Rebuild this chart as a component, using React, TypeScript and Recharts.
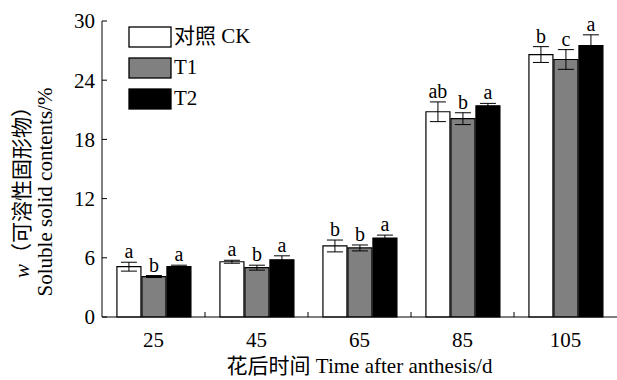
import { BarChart, Bar, XAxis, YAxis, ErrorBar, LabelList, Legend } from 'recharts';

const categories = ['25', '45', '65', '85', '105'];
const ckValues = [5.1, 5.6, 7.2, 20.8, 26.6];
const ckErrors = [0.45, 0.15, 0.6, 1.0, 0.8];
const ckLetters = ['a', 'a', 'b', 'ab', 'b'];
const t1Values = [4.1, 5.0, 7.0, 20.1, 26.1];
const t1Errors = [0.1, 0.25, 0.3, 0.6, 1.0];
const t1Letters = ['b', 'b', 'b', 'b', 'c'];
const t2Values = [5.1, 5.8, 8.0, 21.4, 27.5];
const t2Errors = [0.15, 0.4, 0.3, 0.25, 1.1];
const t2Letters = ['a', 'a', 'a', 'a', 'a'];
const yTicks = [0, 6, 12, 18, 24, 30];

const data = categories.map((day, i) => ({
    day,
    ck: ckValues[i], ckErr: ckErrors[i], ckLetter: ckLetters[i],
    t1: t1Values[i], t1Err: t1Errors[i], t1Letter: t1Letters[i],
    t2: t2Values[i], t2Err: t2Errors[i], t2Letter: t2Letters[i],
}));

const series = [
    { key: 'ck', name: '对照 CK', fill: '#ffffff' },
    { key: 't1', name: 'T1', fill: '#808080' },
    { key: 't2', name: 'T2', fill: '#000000' },
];

const FONT = "'Liberation Serif', 'Times New Roman', 'Noto Sans CJK SC', serif";
const W = 617;
const H = 380;
const LEFT = 102;
const CAT_W = (W - LEFT) / categories.length;

const YTick = (props: any) => {
    const { x, y, payload } = props;
    return (
        <g>
            <line x1={x} x2={x + 5} y1={y} y2={y} stroke="#000" strokeWidth={1} />
            <text x={x - 7} y={y} dy="0.35em" textAnchor="end" fontSize={21} fontFamily={FONT} fill="#000">
                {payload.value}
            </text>
        </g>
    );
};

const XTick = (props: any) => {
    const { x, y, payload, index } = props;
    return (
        <g>
            {index < categories.length - 1 && (
                <line x1={x + CAT_W / 2} x2={x + CAT_W / 2} y1={y} y2={y - 5} stroke="#000" strokeWidth={1} />
            )}
            <text x={x} y={y + 30} textAnchor="middle" fontSize={21} fontFamily={FONT} fill="#000">
                {payload.value}
            </text>
        </g>
    );
};

const letterLabel = (key: string) => (props: any) => {
    const { x, y, width, height, index } = props;
    const row: any = data[index];
    const perUnit = height / row[key];
    const top = y - row[key + 'Err'] * perUnit;
    return (
        <text x={x + width / 2} y={top - 4} textAnchor="middle" fontSize={20} fontFamily={FONT} fill="#000">
            {row[key + 'Letter']}
        </text>
    );
};

const renderLegend = () => (
    <div style={{ fontFamily: FONT, fontSize: 21, color: '#000', lineHeight: 1 }}>
        {series.map((s) => (
            <div key={s.key} style={{ display: 'flex', alignItems: 'center', height: 31 }}>
                <svg width={44} height={22} style={{ marginRight: 2 }}>
                    <rect x={1} y={1} width={42} height={20} fill={s.fill} stroke="#000" strokeWidth={1.3} />
                </svg>
                <span>{s.name}</span>
            </div>
        ))}
    </div>
);

const YLabel = () => (
    <g fontFamily={FONT} fontSize={21} fill="#000">
        <text transform="translate(22,187) rotate(-90)" textAnchor="middle" dominantBaseline="central">
            <tspan fontStyle="italic">w</tspan>
            <tspan>（可溶性固形物）</tspan>
        </text>
        <text transform="translate(45,192) rotate(-90)" textAnchor="middle" dominantBaseline="central">
            Soluble solid contents/%
        </text>
    </g>
);

const XLabel = (props: any) => {
    const vb = props.viewBox;
    return (
        <text x={vb.x + vb.width / 2} y={vb.y + vb.height - 7} textAnchor="middle" fontSize={21} fontFamily={FONT} fill="#000">
            花后时间 Time after anthesis/d
        </text>
    );
};

export default function App() {
    return (
        <div style={{ position: 'absolute', left: 0, top: 0, width: W, height: H, background: '#fff' }}>
            <BarChart
                width={W}
                height={H}
                data={data}
                margin={{ top: 21, right: 0, bottom: 0, left: 0 }}
                barCategoryGap="14.5%"
                barGap={1}
            >
                <XAxis
                    dataKey="day"
                    height={63}
                    tickLine={false}
                    tickSize={0}
                    tickMargin={0}
                    stroke="#000"
                    tick={<XTick />}
                    interval={0}
                    label={{ content: (p: any) => <XLabel {...p} /> }}
                />
                <YAxis
                    width={LEFT}
                    domain={[0, 30]}
                    ticks={yTicks}
                    tickLine={false}
                    tickSize={0}
                    tickMargin={0}
                    stroke="#000"
                    tick={<YTick />}
                    label={{ content: () => <YLabel /> }}
                />
                <Legend
                    layout="vertical"
                    align="center"
                    verticalAlign="middle"
                    content={renderLegend}
                    wrapperStyle={{ position: 'absolute', top: 21, left: 128, width: 'auto' }}
                />
                {series.map((s) => (
                    <Bar key={s.key} dataKey={s.key} name={s.name} fill={s.fill} stroke="#000" strokeWidth={1.2} isAnimationActive={false}>
                        <ErrorBar dataKey={s.key + 'Err'} width={8} stroke="#000" strokeWidth={1} direction="y" />
                        <LabelList dataKey={s.key + 'Letter'} content={letterLabel(s.key)} />
                    </Bar>
                ))}
            </BarChart>
        </div>
    );
}
